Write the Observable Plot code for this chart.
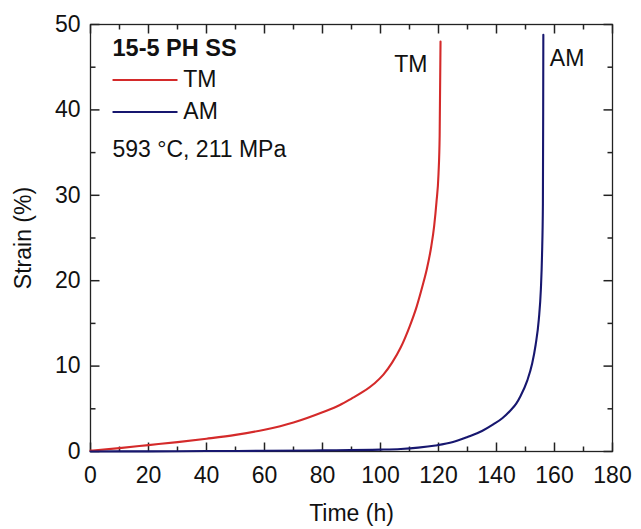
<!DOCTYPE html>
<html>
<head>
<meta charset="utf-8">
<script src="https://cdn.jsdelivr.net/npm/d3@7"></script>
<script src="https://cdn.jsdelivr.net/npm/@observablehq/plot@0.6"></script>
<style>
  html, body { margin: 0; padding: 0; background: white; }
</style>
</head>
<body>
<div id="chart"></div>
<script>
// ---- data ----
const tmTime   = [0, 10, 20, 30, 40, 50, 60, 70, 80, 86, 90, 94, 98, 101, 104, 107, 110, 112.5, 114.5, 116, 117.5, 118.5, 119.3, 120, 120.4, 120.7];
const tmStrain = [0.1, 0.4, 0.75, 1.1, 1.5, 1.95, 2.55, 3.4, 4.6, 5.45, 6.2, 7.0, 8.0, 9.0, 10.4, 12.2, 14.6, 17.0, 19.4, 21.4, 24.0, 26.4, 29.2, 32.5, 37, 48];
const amTime   = [0, 20, 40, 60, 80, 100, 107, 113, 119, 125, 130, 135, 139, 142, 144.8, 146.8, 148.3, 150.6, 152.3, 153.5, 154.6, 155.3, 155.7, 156, 156.1, 156.15];
const amStrain = [0, 0.02, 0.05, 0.08, 0.13, 0.22, 0.3, 0.45, 0.7, 1.1, 1.7, 2.4, 3.2, 3.9, 4.8, 5.6, 6.5, 8.3, 10.3, 12.5, 15.5, 19, 23, 29, 40, 48.8];
const seriesNames  = ["TM", "AM"];
const seriesColors = ["#d42a2a", "#17176f"];
const xMajorTicks = [0, 20, 40, 60, 80, 100, 120, 140, 160, 180];
const xMinorTicks = [10, 30, 50, 70, 90, 110, 130, 150, 170];
const yMajorTicks = [0, 10, 20, 30, 40, 50];
const yMinorTicks = [5, 15, 25, 35, 45];
const legendY = [43.5, 39.75];
const titleText = "15-5 PH SS";
const conditionText = "593 °C, 211 MPa";

const rows = [
  ...tmTime.map((t, i) => ({series: "TM", time: t, strain: tmStrain[i]})),
  ...amTime.map((t, i) => ({series: "AM", time: t, strain: amStrain[i]}))
];
const color = d => seriesColors[seriesNames.indexOf(d)];

const W = 641, H = 529, ML = 90, MR = 29, MT = 24, MB = 78;
const PW = W - ML - MR, PH = H - MT - MB;
const X0 = 0, X1 = 180, Y0 = 0, Y1 = 50;
const xPerPx = (X1 - X0) / PW, yPerPx = (Y1 - Y0) / PH;
const MAJ = 9, MIN = 5;
const ink = "#222";

// inward tick marks on all four sides, drawn as short links positioned by the scales
const xTicks = (vals, len) => [
  Plot.link(vals, {x1: d => d, x2: d => d, y1: Y0, y2: Y0 + len * yPerPx, stroke: ink, strokeWidth: 1.5}),
  Plot.link(vals, {x1: d => d, x2: d => d, y1: Y1, y2: Y1 - len * yPerPx, stroke: ink, strokeWidth: 1.5})
];
const yTicks = (vals, len) => [
  Plot.link(vals, {y1: d => d, y2: d => d, x1: X0, x2: X0 + len * xPerPx, stroke: ink, strokeWidth: 1.5}),
  Plot.link(vals, {y1: d => d, y2: d => d, x1: X1, x2: X1 - len * xPerPx, stroke: ink, strokeWidth: 1.5})
];

const chart = Plot.plot({
  width: W,
  height: H,
  marginLeft: ML,
  marginRight: MR,
  marginTop: MT,
  marginBottom: MB,
  style: {fontFamily: "'Liberation Sans', Arial, sans-serif", fontSize: "23px", color: "#111", background: "white"},
  x: {domain: [X0, X1]},
  y: {domain: [Y0, Y1]},
  marks: [
    Plot.frame({stroke: ink, strokeWidth: 1.3, fill: "none"}),
    Plot.axisX({anchor: "bottom", ticks: xMajorTicks, tickSize: 0, tickPadding: 15, tickFormat: d => String(d),
      label: "Time (h)", labelAnchor: "center", labelOffset: 69, labelArrow: "none", fontSize: 23}),
    Plot.axisY({anchor: "left", ticks: yMajorTicks, tickSize: 0, tickPadding: 10, tickFormat: d => String(d),
      label: "Strain (%)", labelAnchor: "center", labelOffset: 76, labelArrow: "none", fontSize: 23}),
    ...xTicks(xMajorTicks, MAJ),
    ...xTicks(xMinorTicks, MIN),
    ...yTicks(yMajorTicks, MAJ),
    ...yTicks(yMinorTicks, MIN),
    // curves
    Plot.line(rows, {x: "time", y: "strain", z: "series", stroke: d => color(d.series), strokeWidth: 2.1, curve: "monotone-x"}),
    // curve labels at curve ends
    Plot.text(rows, Plot.selectLast({filter: d => d.series === "TM", x: "time", y: "strain", z: "series", text: "series",
      textAnchor: "end", dx: -13, dy: 23.5, fontSize: 23, fill: "#111"})),
    Plot.text(rows, Plot.selectLast({filter: d => d.series === "AM", x: "time", y: "strain", z: "series", text: "series",
      textAnchor: "start", dx: 6.5, dy: 24.3, fontSize: 23, fill: "#111"})),
    // legend block
    Plot.text([titleText], {frameAnchor: "top-left", text: d => d, dx: 22, dy: 14.5, lineAnchor: "top", fontWeight: "bold", fontSize: 23.5, fill: "#111"}),
    Plot.link(seriesNames, {x1: 7.6, x2: 30, y1: (d, i) => legendY[i], y2: (d, i) => legendY[i], stroke: d => color(d), strokeWidth: 2.1}),
    Plot.text(seriesNames, {x: 32, y: (d, i) => legendY[i], text: d => d, textAnchor: "start", fontSize: 23, fill: "#111"}),
    Plot.text([conditionText], {frameAnchor: "top-left", text: d => d, dx: 22, dy: 116, lineAnchor: "top", fontSize: 23, fill: "#111"})
  ]
});
document.getElementById("chart").appendChild(chart);
</script>
</body>
</html>
